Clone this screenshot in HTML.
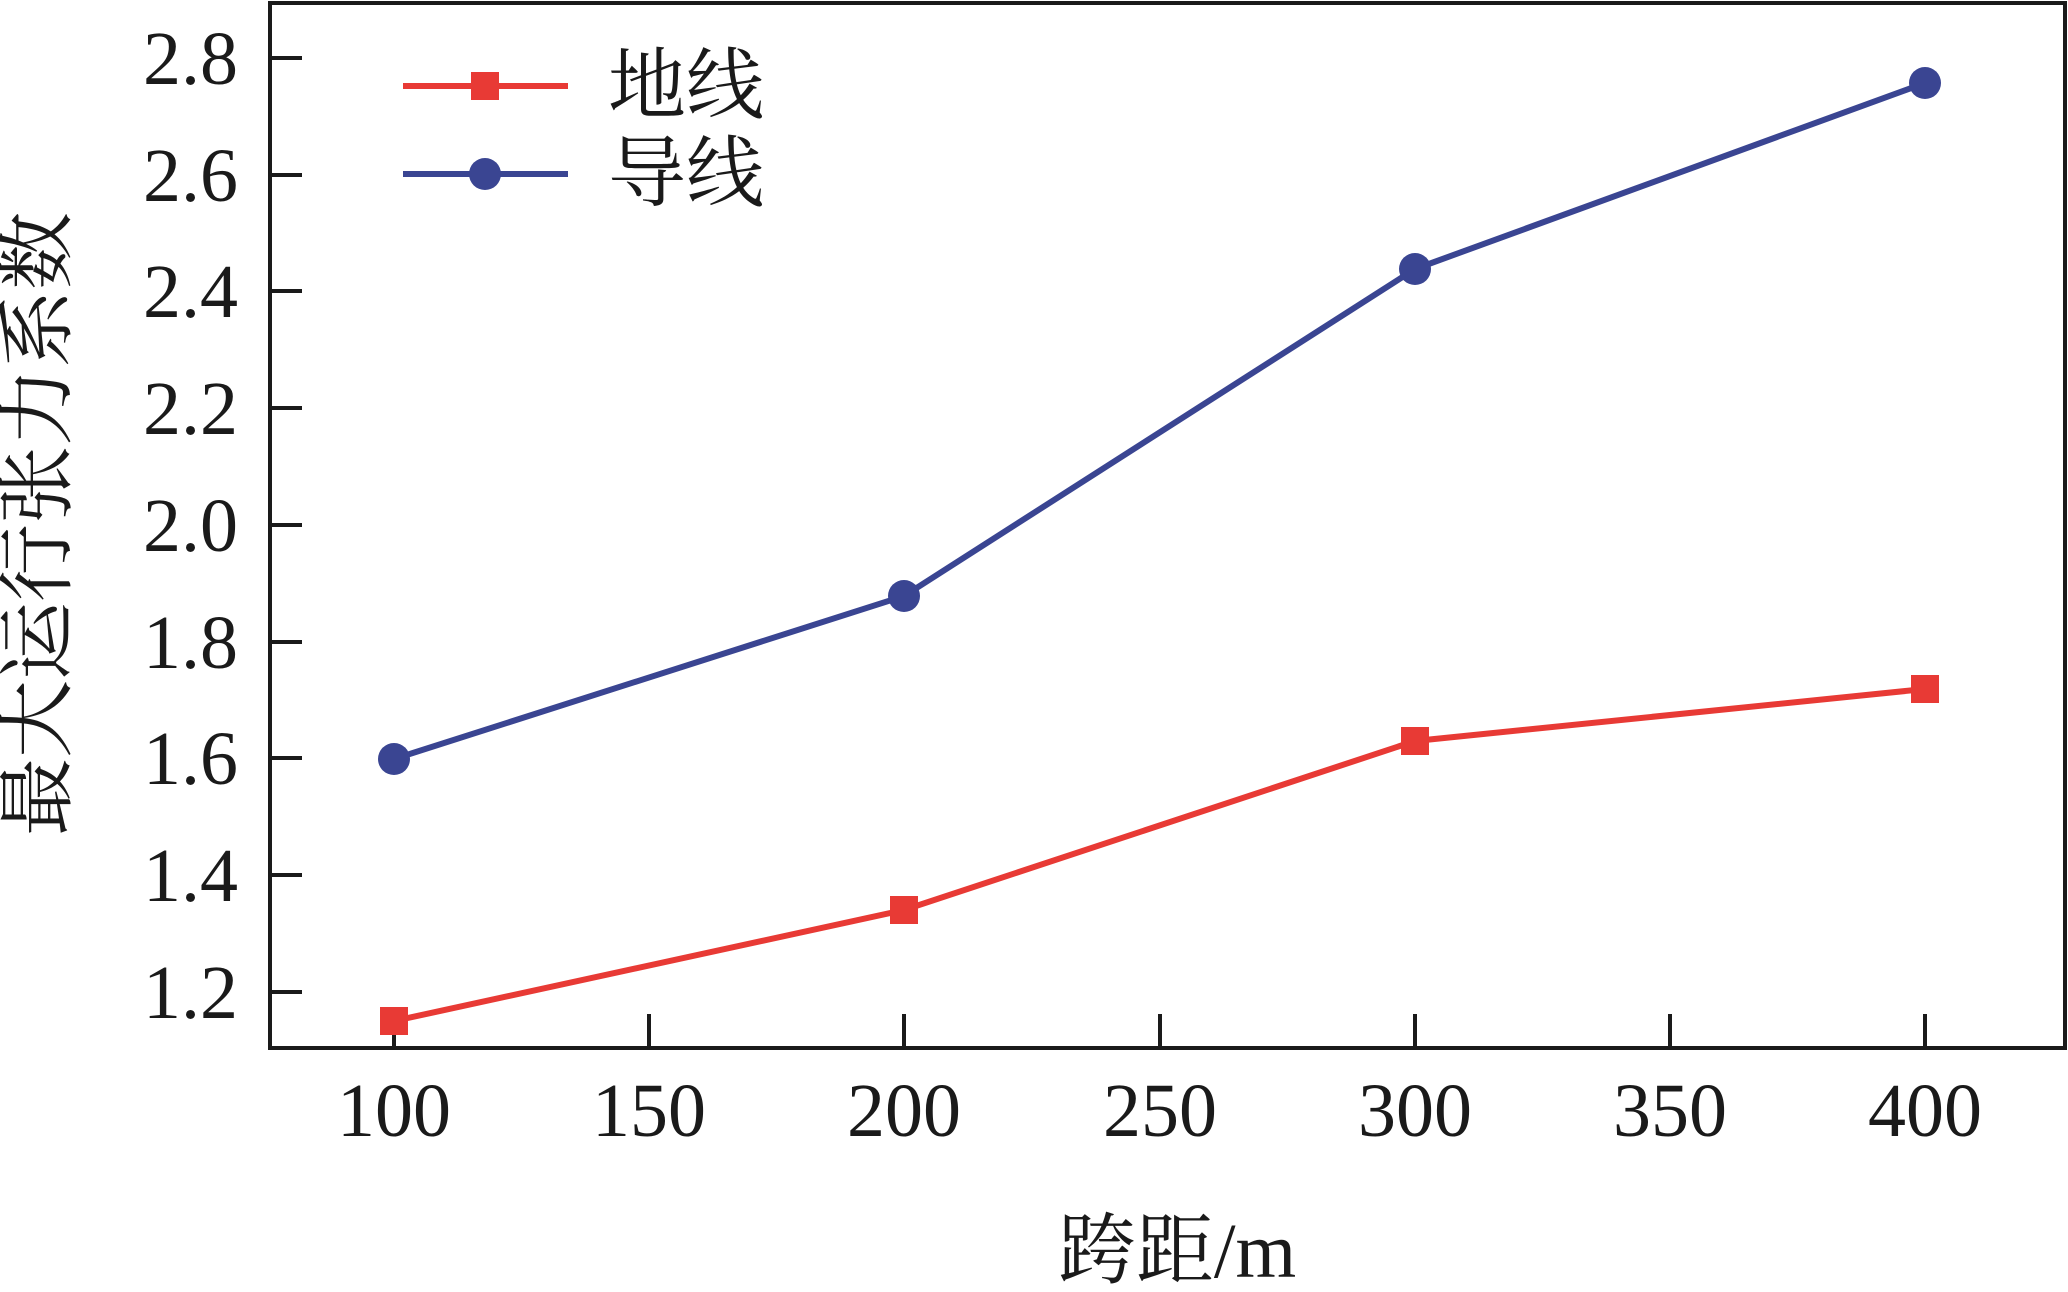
<!DOCTYPE html>
<html><head><meta charset="utf-8"><style>body{margin:0;background:#fff}</style></head>
<body>
<svg width="2068" height="1287" viewBox="0 0 2068 1287" xmlns="http://www.w3.org/2000/svg" font-family="'Liberation Serif','Noto Serif CJK SC',serif">
<rect x="270" y="3" width="1795" height="1045" fill="none" stroke="#1a1a1a" stroke-width="4"/>
<g stroke="#1a1a1a" stroke-width="4">
<line x1="270" y1="58" x2="302" y2="58"/><line x1="270" y1="175" x2="302" y2="175"/>
<line x1="270" y1="291" x2="302" y2="291"/><line x1="270" y1="408" x2="302" y2="408"/>
<line x1="270" y1="525" x2="302" y2="525"/><line x1="270" y1="642" x2="302" y2="642"/>
<line x1="270" y1="758" x2="302" y2="758"/><line x1="270" y1="875" x2="302" y2="875"/>
<line x1="270" y1="992" x2="302" y2="992"/>
<line x1="394" y1="1048" x2="394" y2="1014"/><line x1="649" y1="1048" x2="649" y2="1014"/>
<line x1="904" y1="1048" x2="904" y2="1014"/><line x1="1160" y1="1048" x2="1160" y2="1014"/>
<line x1="1415" y1="1048" x2="1415" y2="1014"/><line x1="1670" y1="1048" x2="1670" y2="1014"/>
<line x1="1925" y1="1048" x2="1925" y2="1014"/>
</g>
<g font-size="76" text-anchor="end" fill="#1a1a1a">
<text x="238" y="84">2.8</text><text x="238" y="201">2.6</text><text x="238" y="317">2.4</text>
<text x="238" y="434">2.2</text><text x="238" y="551">2.0</text><text x="238" y="668">1.8</text>
<text x="238" y="784">1.6</text><text x="238" y="901">1.4</text><text x="238" y="1018">1.2</text>
</g>
<g font-size="76" text-anchor="middle" fill="#1a1a1a">
<text x="394" y="1136">100</text><text x="649" y="1136">150</text><text x="904" y="1136">200</text>
<text x="1160" y="1136">250</text><text x="1415" y="1136">300</text><text x="1670" y="1136">350</text>
<text x="1925" y="1136">400</text>
<text x="1177" y="1277" font-size="78">跨距/m</text>
<text transform="translate(64,524) rotate(-90)" font-size="78">最大运行张力系数</text>
</g>
<polyline points="394,1021 904,910 1415,741 1925,689" fill="none" stroke="#e83a35" stroke-width="6"/>
<g fill="#e83a35"><rect x="380" y="1007" width="28" height="28"/><rect x="890" y="896" width="28" height="28"/><rect x="1401" y="727" width="28" height="28"/><rect x="1911" y="675" width="28" height="28"/></g>
<polyline points="394,759 904,596 1415,269 1925,83" fill="none" stroke="#3a4592" stroke-width="6"/>
<g fill="#3a4592"><circle cx="394" cy="759" r="16"/><circle cx="904" cy="596" r="16"/><circle cx="1415" cy="269" r="16"/><circle cx="1925" cy="83" r="16"/></g>
<line x1="403" y1="86" x2="568" y2="86" stroke="#e83a35" stroke-width="6"/>
<rect x="471" y="72" width="28" height="28" fill="#e83a35"/>
<line x1="403" y1="174" x2="568" y2="174" stroke="#3a4592" stroke-width="6"/>
<circle cx="485" cy="174" r="16" fill="#3a4592"/>
<g font-size="78" fill="#1a1a1a"><text x="608" y="112">地线</text><text x="608" y="200">导线</text></g>
</svg>
</body></html>
